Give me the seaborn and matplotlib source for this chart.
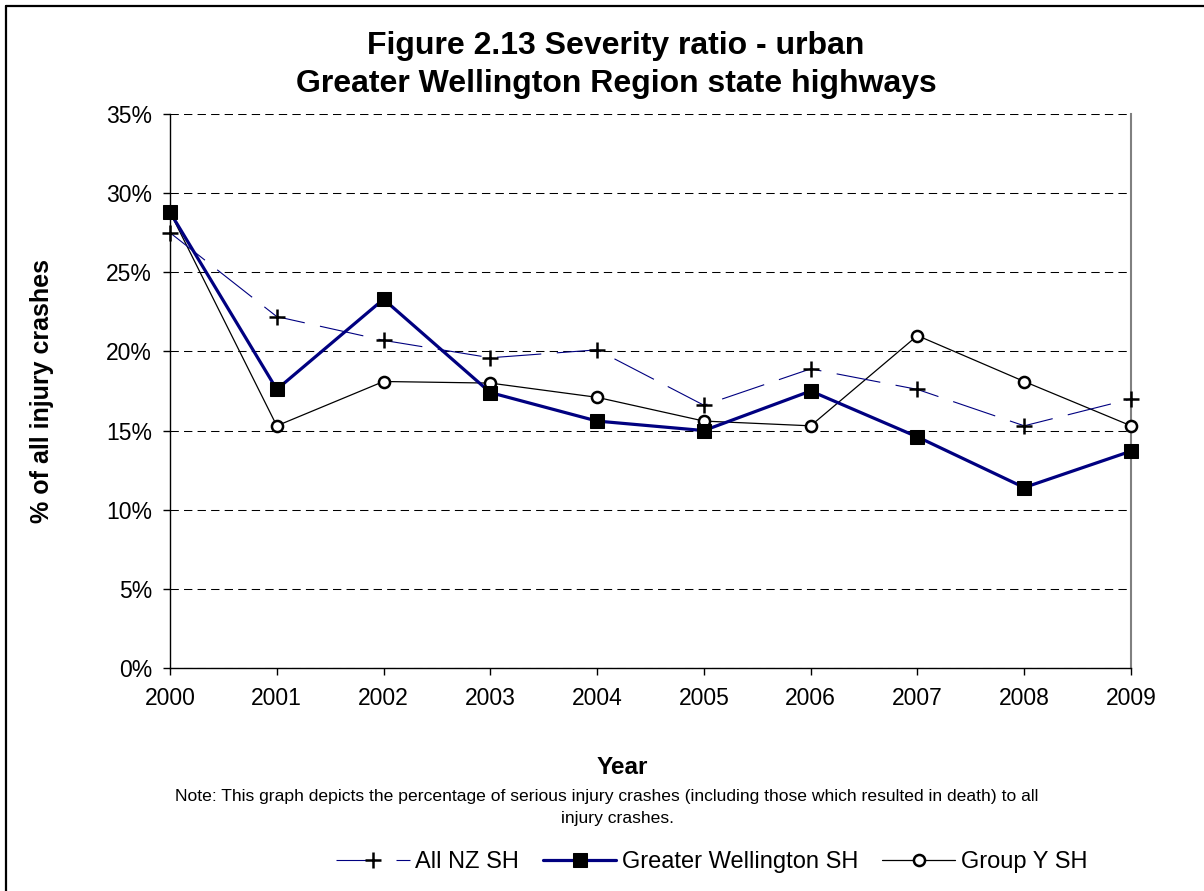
import matplotlib
matplotlib.use("Agg")
import matplotlib.pyplot as plt
import seaborn as sns
import pandas as pd
from matplotlib.lines import Line2D
from matplotlib.ticker import FuncFormatter, MultipleLocator

sns.set_theme(style="white")
plt.rcParams["font.family"] = ["Liberation Sans", "DejaVu Sans"]
plt.rcParams.update({"text.color": "black", "axes.labelcolor": "black",
                     "xtick.color": "black", "ytick.color": "black"})

# Severity ratio (% of injury crashes that were serious or fatal), urban state highways
years = [2000, 2001, 2002, 2003, 2004, 2005, 2006, 2007, 2008, 2009]
all_nz_sh = [27.5, 22.2, 20.7, 19.6, 20.1, 16.6, 18.9, 17.6, 15.3, 17.0]
greater_wellington_sh = [28.8, 17.6, 23.3, 17.4, 15.6, 15.0, 17.5, 14.6, 11.4, 13.7]
group_y_sh = [28.8, 15.3, 18.1, 18.0, 17.1, 15.6, 15.3, 21.0, 18.1, 15.3]
series_names = ["All NZ SH", "Greater Wellington SH", "Group Y SH"]

df = pd.DataFrame({
    "Year": years,
    series_names[0]: all_nz_sh,
    series_names[1]: greater_wellington_sh,
    series_names[2]: group_y_sh,
})

fig = plt.figure(figsize=(12.04, 8.91), dpi=100)
ax = fig.add_axes([170 / 1204, 1 - 668 / 891, (1131 - 170) / 1204, (668 - 114) / 891])

navy = "#000080"

# Group Y drawn first, Greater Wellington last so its squares sit on top
sns.lineplot(data=df, x="Year", y=series_names[2], ax=ax, color="black", lw=0.9,
             marker="o", markersize=8, markerfacecolor="white",
             markeredgecolor="black", markeredgewidth=1.8, clip_on=False,
             label=series_names[2], zorder=3)
sns.lineplot(data=df, x="Year", y=series_names[0], ax=ax, color=navy, lw=0.8,
             linestyle=(0, (40, 14)), marker="+", markersize=11,
             markeredgecolor="black", markeredgewidth=1.8, clip_on=False,
             label=series_names[0], zorder=4)
sns.lineplot(data=df, x="Year", y=series_names[1], ax=ax, color=navy, lw=2.3,
             marker="s", markersize=9.5, markerfacecolor="black",
             markeredgecolor="black", clip_on=False,
             label=series_names[1], zorder=5)

ax.set_xlim(2000, 2009)
ax.set_ylim(0, 35)
ax.xaxis.set_major_locator(MultipleLocator(1))
ax.yaxis.set_major_locator(MultipleLocator(5))
ax.yaxis.set_major_formatter(FuncFormatter(lambda v, p: f"{v:.0f}%"))

ax.grid(axis="y", color="black", linestyle=(0, (8, 5)), linewidth=0.75)
ax.set_axisbelow(True)
for s in ["left", "bottom"]:
    ax.spines[s].set_color("black")
    ax.spines[s].set_linewidth(1.0)
ax.spines["top"].set_visible(False)
ax.spines["right"].set_color("#808080")
ax.spines["right"].set_linewidth(1.5)

ax.tick_params(axis="both", which="major", direction="out", length=5, width=1,
               color="black", labelsize=16.5, labelcolor="black", bottom=True, left=True)
ax.tick_params(axis="x", pad=9)
ax.tick_params(axis="y", pad=8)

ax.set_xlabel("")
ax.set_ylabel("")

fig.text(42 / 1204, 1 - 391 / 891, "% of all injury crashes", rotation=90,
         ha="center", va="center", fontsize=18, fontweight="bold")
fig.text(622 / 1204, 1 - 768 / 891, "Year", ha="center", va="center",
         fontsize=17.5, fontweight="bold")
fig.text(607 / 1204, 1 - 797 / 891,
         "Note: This graph depicts the percentage of serious injury crashes "
         "(including those which resulted in death) to all",
         ha="center", va="center", fontsize=12.6)
fig.text(617 / 1204, 1 - 819 / 891, "injury crashes.", ha="center", va="center",
         fontsize=12.6)

fig.text(616 / 1204, 1 - 46 / 891, "Figure 2.13 Severity ratio - urban",
         ha="center", va="center", fontsize=23, fontweight="bold")
fig.text(616 / 1204, 1 - 84 / 891, "Greater Wellington Region state highways",
         ha="center", va="center", fontsize=23, fontweight="bold")

handles, labels = ax.get_legend_handles_labels()
order = [labels.index(n) for n in series_names]
ax.get_legend().remove()
fig.legend([handles[i] for i in order], [labels[i] for i in order],
           loc="center", bbox_to_anchor=(712 / 1204, 1 - 862 / 891), ncol=3,
           frameon=False, fontsize=17, handlelength=3.1, handletextpad=0.25,
           columnspacing=1.0)

# frame along the top and left of the figure
fig.add_artist(Line2D([6 / 1204, 6 / 1204], [0, 1 - 6 / 891], color="black",
                      lw=1.6, transform=fig.transFigure))
fig.add_artist(Line2D([6 / 1204, 1], [1 - 6 / 891, 1 - 6 / 891], color="black",
                      lw=1.6, transform=fig.transFigure))

fig.savefig("out.png", dpi=100, facecolor="white")
